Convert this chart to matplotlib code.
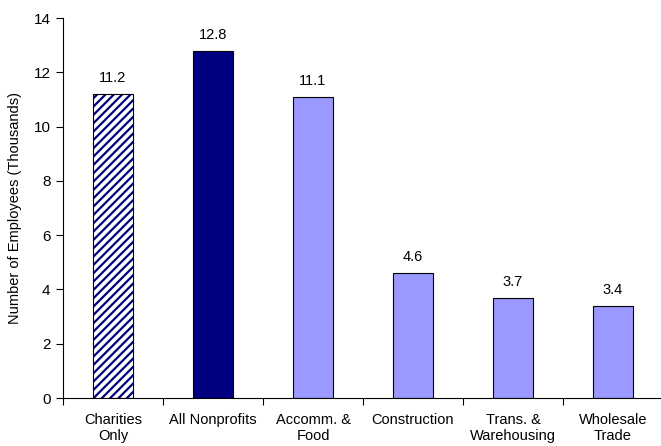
import matplotlib
matplotlib.use("Agg")
import matplotlib.pyplot as plt
import numpy as np

categories = ["Charities\nOnly", "All Nonprofits", "Accomm. &\nFood", "Construction",
              "Trans. &\nWarehousing", "Wholesale\nTrade"]
employees = [11.2, 12.8, 11.1, 4.6, 3.7, 3.4]
labels = ["11.2", "12.8", "11.1", "4.6", "3.7", "3.4"]

plt.rcParams['font.family'] = ['Liberation Sans', 'DejaVu Sans']
plt.rcParams['hatch.linewidth'] = 1.6

fig = plt.figure(figsize=(6.61, 4.46), dpi=100)
ax = fig.add_axes([63/661, 1 - 398/446, 598/661, 380/446])

x = np.arange(len(categories))
colors = ['white', '#000080', '#9999FF', '#9999FF', '#9999FF', '#9999FF']
bars = ax.bar(x, employees, width=0.4, color=colors, edgecolor='black', linewidth=0.8)
# hatched bar: hatch takes the edge colour, so draw the outline again on top
bars[0].set_hatch('////')
bars[0].set_edgecolor('#000080')
bars[0].set_linewidth(0)
ax.bar(x[:1], employees[:1], width=0.4, fill=False, edgecolor='black', linewidth=0.8)

for xi, v, lab in zip(x, employees, labels):
    ax.text(xi, v + 0.33, lab, ha='center', va='bottom', fontsize=10.5)

ax.set_xlim(-0.5, 5.48)
ax.set_ylim(0, 14)
ax.set_yticks(range(0, 15, 2))
ax.set_xticks(np.arange(-0.5, 5.5, 1.0), minor=False)
ax.set_xticklabels([])
ax.set_xticks(x, minor=True)
ax.set_xticklabels(categories, minor=True, fontsize=10.5)
ax.tick_params(axis='x', which='minor', length=0, pad=11)
ax.tick_params(axis='x', which='major', length=5, direction='out')
ax.tick_params(axis='y', labelsize=11, length=5, direction='out', pad=4)
ax.spines['top'].set_visible(False)
ax.spines['right'].set_visible(False)
ax.set_ylabel('Number of Employees (Thousands)', fontsize=10.5, labelpad=8)

fig.savefig('out.png', dpi=100)
